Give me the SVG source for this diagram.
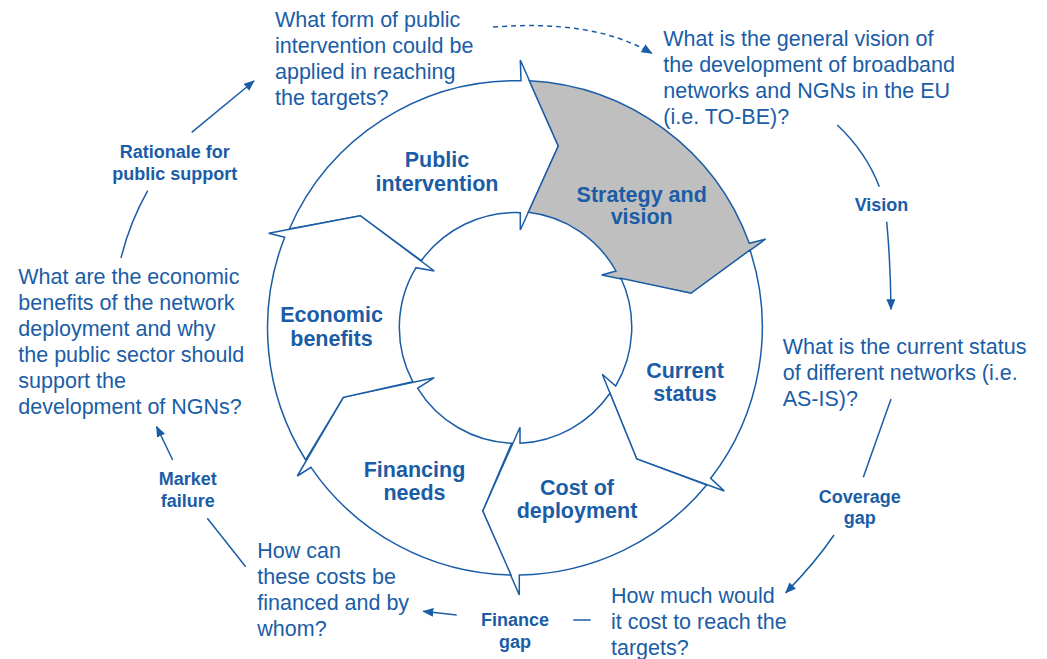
<svg xmlns="http://www.w3.org/2000/svg" width="1047" height="659" viewBox="0 0 1047 659">
  <style>
    .seg { fill: #ffffff; stroke: #1a5da6; stroke-width: 1.5; stroke-linejoin: miter; }
    .seg.active { fill: #bfbfbf; }
    .q { font-family: "Liberation Sans", Arial, sans-serif; font-size: 21.5px; fill: #1a5da6; }
    .lbl { font-family: "Liberation Sans", Arial, sans-serif; font-size: 21.5px; font-weight: bold; fill: #1a5da6; text-anchor: middle; }
    .tag { font-family: "Liberation Sans", Arial, sans-serif; font-size: 18px; font-weight: bold; fill: #1a5da6; text-anchor: middle; }
    .link { fill: none; stroke: #1a5da6; stroke-width: 1.5; }
    .dash { stroke-dasharray: 5 4; }
  </style>
  <defs>
    <marker id="head" markerUnits="userSpaceOnUse" markerWidth="11" markerHeight="9" refX="10" refY="4.5" orient="auto">
      <path d="M0,0 L11,4.5 L0,9 Z" fill="#1a5da6"/>
    </marker>
  </defs>

  <rect width="1047" height="659" fill="#ffffff"/>

  <!-- cycle ring: six chevron segments around centre (515,328), R=247.5, r=116 -->
  <g id="seg-public-intervention">
    <path class="seg" d="M289.3,229 A247.5,247.5 0 0 1 521,80.7 L520.3,60 L558.3,146 L520.3,230 L520.3,212.7 A116,116 0 0 0 421.3,260.7 L360.3,215.7 Z"/>
    <text class="lbl" x="437" y="166.7">Public</text>
    <text class="lbl" x="437" y="190.7">intervention</text>
  </g>
  <g id="seg-strategy-vision">
    <path class="seg active" d="M529.3,80.7 A247.5,247.5 0 0 1 749.3,243.3 L765.7,239 L691,293.3 L601.7,275 L616,271 A116,116 0 0 0 528.3,212.3 L558.3,146 Z"/>
    <text class="lbl" x="641.7" y="201.5">Strategy and</text>
    <text class="lbl" x="641.7" y="224">vision</text>
  </g>
  <g id="seg-current-status">
    <path class="seg" d="M750,250 A247.5,247.5 0 0 1 710.7,478.3 L724.3,491 L636.7,459 L602.3,374.3 L615.7,386 A116,116 0 0 0 621,278.3 L691,293.3 Z"/>
    <text class="lbl" x="685" y="378.3">Current</text>
    <text class="lbl" x="685" y="401">status</text>
  </g>
  <g id="seg-cost-deployment">
    <path class="seg" d="M706.7,485 A247.5,247.5 0 0 1 519.3,575 L519.3,595 L482.7,511 L520,427.3 L520,443.3 A116,116 0 0 0 610,393.3 L636.7,459 Z"/>
    <text class="lbl" x="577" y="495">Cost of</text>
    <text class="lbl" x="577" y="518.3">deployment</text>
  </g>
  <g id="seg-financing-needs">
    <path class="seg" d="M511,575 A247.5,247.5 0 0 1 311,467.3 L297.3,476 L343.3,397.3 L434.3,377.7 L417.7,388.3 A116,116 0 0 0 511.7,443.3 L482.7,511 Z"/>
    <text class="lbl" x="414.5" y="476.7">Financing</text>
    <text class="lbl" x="414.5" y="500">needs</text>
  </g>
  <g id="seg-economic-benefits">
    <path class="seg" d="M305.7,460 A247.5,247.5 0 0 1 284.7,237.3 L268.7,233.3 L360.3,215.7 L434.3,271 L416,267.7 A116,116 0 0 0 412.7,381.7 L343.3,397.3 Z"/>
    <text class="lbl" x="331.5" y="322.3">Economic</text>
    <text class="lbl" x="331.5" y="346">benefits</text>
  </g>

  <!-- guiding questions -->
  <g id="q-intervention">
    <text class="q" x="275" y="26.7">What form of public</text>
    <text class="q" x="275" y="52.7">intervention could be</text>
    <text class="q" x="275" y="78.7">applied in reaching</text>
    <text class="q" x="275" y="104.7">the targets?</text>
  </g>
  <g id="q-vision">
    <text class="q" x="663.3" y="45.7">What is the general vision of</text>
    <text class="q" x="663.3" y="71.7">the development of broadband</text>
    <text class="q" x="663.3" y="97.7">networks and NGNs in the EU</text>
    <text class="q" x="663.3" y="123.5">(i.e. TO-BE)?</text>
  </g>
  <g id="q-status">
    <text class="q" x="782.7" y="354.3">What is the current status</text>
    <text class="q" x="782.7" y="380.3">of different networks (i.e.</text>
    <text class="q" x="782.7" y="406.3">AS-IS)?</text>
  </g>
  <g id="q-cost">
    <text class="q" x="611" y="603.3">How much would</text>
    <text class="q" x="611" y="629.3">it cost to reach the</text>
    <text class="q" x="611" y="655.3">targets?</text>
  </g>
  <g id="q-financing">
    <text class="q" x="257.3" y="558.3">How can</text>
    <text class="q" x="257.3" y="584.3">these costs be</text>
    <text class="q" x="257.3" y="610.3">financed and by</text>
    <text class="q" x="257.3" y="636.3">whom?</text>
  </g>
  <g id="q-benefits">
    <text class="q" x="18.3" y="284">What are the economic</text>
    <text class="q" x="18.3" y="310">benefits of the network</text>
    <text class="q" x="18.3" y="336">deployment and why</text>
    <text class="q" x="18.3" y="362">the public sector should</text>
    <text class="q" x="18.3" y="388">support the</text>
    <text class="q" x="18.3" y="414">development of NGNs?</text>
  </g>

  <!-- transition tags -->
  <g id="tag-vision"><text class="tag" x="881.5" y="210.7">Vision</text></g>
  <g id="tag-coverage"><text class="tag" x="859.7" y="502.7">Coverage</text><text class="tag" x="859.7" y="524.2">gap</text></g>
  <g id="tag-finance"><text class="tag" x="515" y="626">Finance</text><text class="tag" x="515" y="647.5">gap</text></g>
  <g id="tag-market"><text class="tag" x="187.8" y="485">Market</text><text class="tag" x="187.8" y="506.7">failure</text></g>
  <g id="tag-rationale"><text class="tag" x="174.7" y="158.3">Rationale for</text><text class="tag" x="174.7" y="180">public support</text></g>

  <!-- connectors between questions -->
  <g id="connectors">
    <path class="link dash" d="M493,27 C560,22 612,30 651.7,53.3" marker-end="url(#head)"/>
    <path class="link" d="M837.3,125 Q866,152 879.3,186.7"/>
    <path class="link" d="M886.7,221.7 Q890.5,262 891,309.3" marker-end="url(#head)"/>
    <path class="link" d="M891,399 L863.3,477.3"/>
    <path class="link" d="M834,535 Q815,563 785.7,592.7" marker-end="url(#head)"/>
    <path class="link" d="M590.7,620 L573.3,620"/>
    <path class="link" d="M456.7,615 L423.3,611.3" marker-end="url(#head)"/>
    <path class="link" d="M245.7,566.7 L207.3,518.3"/>
    <path class="link" d="M172.7,460 L156.7,426.7" marker-end="url(#head)"/>
    <path class="link" d="M121,258 Q130,222 147.7,190.7"/>
    <path class="link" d="M191.7,132.3 L254,81" marker-end="url(#head)"/>
  </g>
</svg>
